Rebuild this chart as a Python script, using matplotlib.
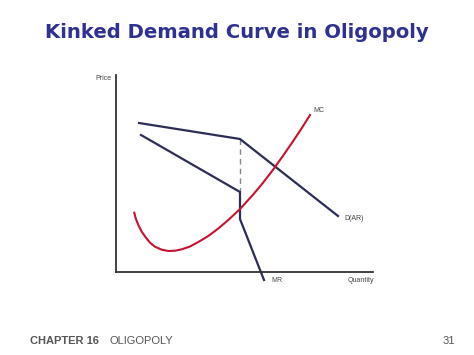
import matplotlib.pyplot as plt

# data (axes units: x 0..257, y 0..197)
d_x = [23, 124, 222]
d_y = [149, 133, 56]
mr_x = [25, 124, 124, 148]
mr_y = [137, 80, 53, -8]
gap_x = [124, 124]
gap_y = [133, 80]
mc_x = [18.3, 19.7, 22.3, 25.7, 29.7, 34, 39, 45.7, 52.3, 59, 65.7, 74, 82.3,
        92.3, 102.3, 112.3, 124, 137.3, 147, 157, 167, 177, 186, 194]
mc_y = [59.3, 53.7, 47, 40.3, 34.7, 29.3, 25.3, 22.3, 21, 21.3, 22.7, 25.5, 30,
        36, 43.5, 52, 63, 77.6, 89.2, 102.2, 116.2, 130.7, 144.2, 157]

navy = "#2b2d55"
red = "#c41230"
gray = "#555555"

fig = plt.figure(figsize=(4.74, 3.55), dpi=100)
ax = fig.add_axes([116/474, 83/355, 257/474, 197/355])
ax.set_xlim(0, 257)
ax.set_ylim(0, 197)
for s in ["top", "right"]:
    ax.spines[s].set_visible(False)
for s in ["left", "bottom"]:
    ax.spines[s].set_color("#333333")
    ax.spines[s].set_linewidth(1.3)
ax.set_xticks([])
ax.set_yticks([])

ax.plot(gap_x, gap_y, color="#888888", lw=1, ls=(0, (4, 3)))
ax.plot(d_x, d_y, color=navy, lw=1.6, clip_on=False)
ax.plot(mr_x, mr_y, color=navy, lw=1.6, clip_on=False)
ax.plot(mc_x, mc_y, color=red, lw=1.5, clip_on=False, solid_joinstyle="round")

lab = dict(fontsize=5, color="#444444", family="Liberation Sans", va="center")
ax.text(197, 162, "MC", ha="left", **lab)
ax.text(228, 53, "D(AR)", ha="left", **lab)
ax.text(155, -8, "MR", ha="left", **lab)
ax.text(232, -8, "Quantity", ha="left", **lab)
ax.text(-5, 194, "Price", ha="right", **lab)

fig.text(237/474, 1 - 32/355, "Kinked Demand Curve in Oligopoly", ha="center",
         va="center", fontsize=14.1, fontweight="bold", color="#2e3192")
fig.text(30/474, 1 - 341/355, "CHAPTER 16", ha="left", va="center", fontsize=8,
         fontweight="bold", color=gray, family="Liberation Sans")
fig.text(110/474, 1 - 341/355, "OLIGOPOLY", ha="left", va="center", fontsize=8,
         color=gray, family="Liberation Sans")
fig.text(455/474, 1 - 341/355, "31", ha="right", va="center", fontsize=8,
         color=gray, family="Liberation Sans")

fig.savefig("out.png", dpi=100)
